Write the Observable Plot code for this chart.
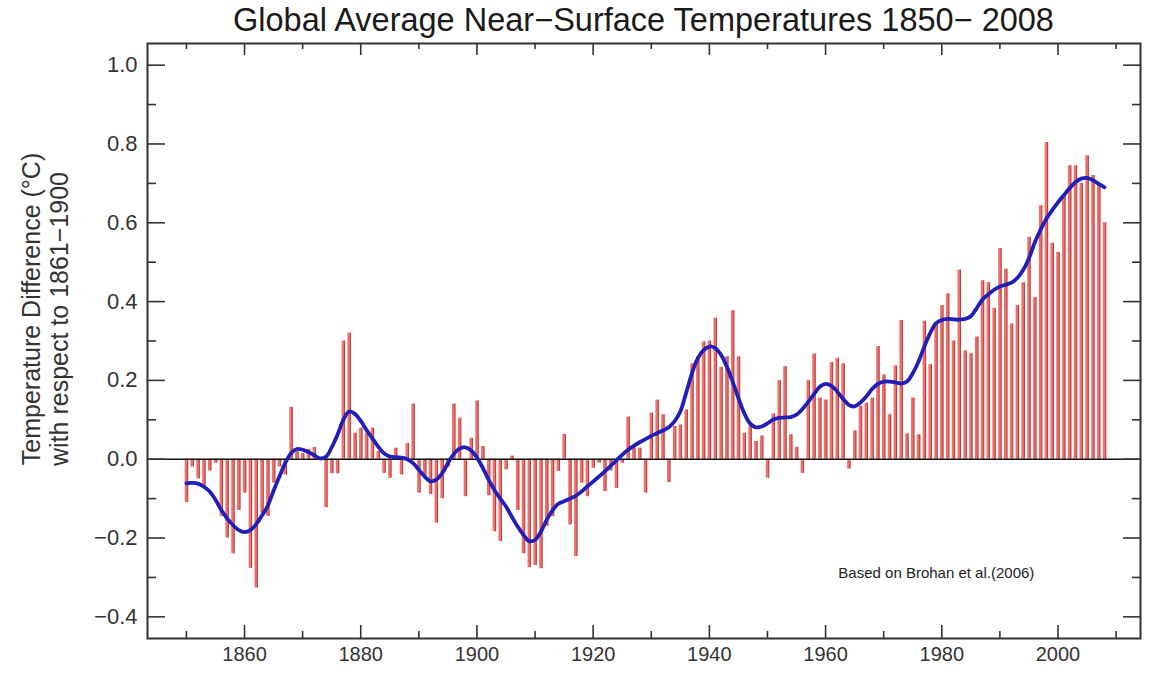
<!DOCTYPE html>
<html>
<head>
<meta charset="utf-8">
<script src="https://cdn.jsdelivr.net/npm/d3@7"></script>
<script src="https://cdn.jsdelivr.net/npm/@observablehq/plot@0.6"></script>
<style>
  html, body { margin: 0; padding: 0; background: #fff; }
  #title { width: 993px; margin-left: 147px; height: 34px; line-height: 40px; text-align: center; white-space: nowrap;
           font-family: "Liberation Sans", Arial, sans-serif; font-size: 32.5px; color: #1a1a1a; overflow: visible; }
  #chart svg { display: block; }
</style>
</head>
<body>
<div id="title">Global Average Near−Surface Temperatures 1850− 2008</div>
<div id="chart"></div>
<script>
// Annual anomalies (°C, relative to 1861–1900), 1850–2008
const firstYear = 1850;
const anomalies = [
  -0.11, -0.02, -0.05, -0.07, -0.03, -0.01, -0.145, -0.20, -0.24, -0.13,   // 1850s
  -0.086, -0.277, -0.327, -0.137, -0.145, -0.06, -0.02, -0.04, 0.132, 0.02, // 1860s
  0.015, 0.025, 0.03, 0.0, -0.123, -0.037, -0.037, 0.30, 0.32, 0.066,       // 1870s
  0.079, 0.066, 0.079, 0.02, -0.036, -0.048, 0.028, -0.04, 0.04, 0.14,      // 1880s
  -0.086, -0.044, -0.09, -0.162, -0.10, -0.02, 0.14, 0.104, -0.095, 0.053,  // 1890s
  0.148, 0.032, -0.093, -0.184, -0.209, -0.027, 0.008, -0.13, -0.24, -0.275, // 1900s
  -0.27, -0.278, -0.17, -0.146, -0.031, 0.063, -0.167, -0.247, -0.061, -0.095, // 1910s
  -0.023, -0.01, -0.082, -0.03, -0.074, -0.01, 0.107, 0.028, 0.028, -0.086, // 1920s
  0.117, 0.15, 0.113, -0.059, 0.083, 0.087, 0.125, 0.242, 0.26, 0.298,      // 1930s
  0.30, 0.358, 0.233, 0.26, 0.377, 0.26, 0.066, 0.087, 0.045, 0.059,        // 1940s
  -0.048, 0.115, 0.2, 0.235, 0.062, 0.03, -0.036, 0.2, 0.267, 0.155,        // 1950s
  0.15, 0.245, 0.256, 0.242, -0.025, 0.072, 0.134, 0.142, 0.155, 0.286,     // 1960s
  0.214, 0.113, 0.237, 0.352, 0.064, 0.155, 0.062, 0.35, 0.24, 0.345,       // 1970s
  0.39, 0.42, 0.30, 0.48, 0.275, 0.268, 0.31, 0.453, 0.448, 0.383,          // 1980s
  0.535, 0.482, 0.343, 0.39, 0.448, 0.563, 0.41, 0.643, 0.804, 0.548,       // 1990s
  0.525, 0.67, 0.745, 0.745, 0.70, 0.77, 0.72, 0.70, 0.60                   // 2000s
];
// Smoothed curve (blue line), read year by year
const smoothed = [
  -0.061, -0.06, -0.062, -0.07, -0.082, -0.103, -0.129, -0.15, -0.167, -0.18,
  -0.185, -0.18, -0.165, -0.143, -0.118, -0.08, -0.044, -0.01, 0.015, 0.026,
  0.024, 0.018, 0.01, 0.002, 0.006, 0.03, 0.062, 0.10, 0.121, 0.115,
  0.097, 0.074, 0.053, 0.032, 0.015, 0.007, 0.005, 0.004, 0.0, -0.01,
  -0.027, -0.044, -0.056, -0.052, -0.036, -0.01, 0.013, 0.027, 0.03, 0.022,
  0.004, -0.022, -0.052, -0.078, -0.10, -0.12, -0.146, -0.171, -0.192, -0.208,
  -0.205, -0.184, -0.154, -0.13, -0.113, -0.107, -0.10, -0.093, -0.082, -0.069,
  -0.057, -0.044, -0.031, -0.017, -0.003, 0.011, 0.024, 0.034, 0.043, 0.051,
  0.059, 0.066, 0.073, 0.081, 0.096, 0.121, 0.168, 0.218, 0.256, 0.277,
  0.286, 0.282, 0.265, 0.235, 0.197, 0.155, 0.117, 0.091, 0.081, 0.083,
  0.091, 0.101, 0.105, 0.106, 0.107, 0.113, 0.127, 0.145, 0.165, 0.184,
  0.191, 0.186, 0.172, 0.153, 0.138, 0.134, 0.144, 0.159, 0.178, 0.191,
  0.197, 0.197, 0.195, 0.192, 0.197, 0.218, 0.248, 0.286, 0.32, 0.345,
  0.353, 0.356, 0.355, 0.354, 0.356, 0.363, 0.383, 0.405, 0.418, 0.43,
  0.438, 0.443, 0.448, 0.46, 0.48, 0.51, 0.55, 0.582, 0.61, 0.632,
  0.652, 0.67, 0.688, 0.703, 0.712, 0.714, 0.708, 0.699, 0.69
];
const xMajorTicks = [1860, 1880, 1900, 1920, 1940, 1960, 1980, 2000];
const xMinorTicks = [1850, 1870, 1890, 1910, 1930, 1950, 1970, 1990, 2010];
const yMajorTicks = [-0.4, -0.2, 0.0, 0.2, 0.4, 0.6, 0.8, 1.0];
const yMinorTicks = [-0.3, -0.1, 0.1, 0.3, 0.5, 0.7, 0.9];
const yLabelLines = ["Temperature Difference (°C)", "with respect to 1861−1900"];
const sourceNote = "Based on Brohan et al.(2006)";

const bars = anomalies.map((v, i) => ({year: firstYear + i, value: v}));
const smooth = smoothed.map((v, i) => ({year: firstYear + i, value: v}));

const W = 1154, H = 643;
const mL = 147, mR = 14, mT = 9, mB = 39;
const fw = W - mL - mR, fh = H - mT - mB;
const axisColor = "#333";
const fmtY = d => (d < 0 ? "−" : "") + Math.abs(d).toFixed(1);

const chart = Plot.plot({
  width: W, height: H,
  marginLeft: mL, marginRight: mR, marginTop: mT, marginBottom: mB,
  style: {fontFamily: "'Liberation Sans', Arial, sans-serif", background: "#fff", color: "#222"},
  x: {domain: [1843.3, 2014.2]},
  y: {domain: [-0.455, 1.055]},
  marks: [
    // bars
    Plot.ruleX(bars, {x: "year", y1: 0, y2: "value", stroke: "#ef706a", strokeWidth: 3.4}),
    Plot.ruleX(bars, {x: "year", y1: 0, y2: "value", stroke: "#9a2a2a", strokeWidth: 0.9, dx: 1.3, strokeOpacity: 0.8}),
    // zero line
    Plot.ruleY([0], {stroke: "#111", strokeWidth: 1.6}),
    // smoothed curve
    Plot.line(smooth, {x: "year", y: "value", stroke: "#2020b8", strokeWidth: 3.8, curve: "catmull-rom"}),
    // frame
    Plot.frame({stroke: axisColor, strokeWidth: 2}),
    // inward ticks: left / right
    Plot.tickY(yMajorTicks, {y: d => d, insetRight: fw - 18, stroke: axisColor, strokeWidth: 1.6}),
    Plot.tickY(yMinorTicks, {y: d => d, insetRight: fw - 9, stroke: axisColor, strokeWidth: 1.6}),
    Plot.tickY(yMajorTicks, {y: d => d, insetLeft: fw - 17, stroke: axisColor, strokeWidth: 1.6}),
    Plot.tickY(yMinorTicks, {y: d => d, insetLeft: fw - 8, stroke: axisColor, strokeWidth: 1.6}),
    // inward ticks: bottom / top
    Plot.tickX(xMajorTicks, {x: d => d, insetTop: fh - 13, stroke: axisColor, strokeWidth: 1.6}),
    Plot.tickX(xMinorTicks, {x: d => d, insetTop: fh - 7, stroke: axisColor, strokeWidth: 1.6}),
    Plot.tickX(xMajorTicks, {x: d => d, insetBottom: fh - 12, stroke: axisColor, strokeWidth: 1.6}),
    Plot.tickX(xMinorTicks, {x: d => d, insetBottom: fh - 6, stroke: axisColor, strokeWidth: 1.6}),
    // tick labels
    Plot.axisY({ticks: yMajorTicks, tickSize: 0, tickPadding: 10, tickFormat: fmtY, fontSize: 22, label: null, fill: "#333"}),
    Plot.axisX({ticks: xMajorTicks, tickSize: 0, tickPadding: 8, tickFormat: d => String(d), fontSize: 20, label: null, fill: "#333"}),
    // y axis title
    Plot.text([yLabelLines[0]], {frameAnchor: "left", textAnchor: "middle", lineAnchor: "middle", rotate: -90, dx: -116, dy: -32, fontSize: 25, fill: "#333", text: d => d}),
    Plot.text([yLabelLines[1]], {frameAnchor: "left", textAnchor: "middle", lineAnchor: "middle", rotate: -90, dx: -88, dy: -22, fontSize: 25, fill: "#333", text: d => d}),
    // source note
    Plot.text([sourceNote], {x: 1962.2, y: -0.29, textAnchor: "start", fontSize: 15, fill: "#222", text: d => d})
  ]
});
document.getElementById("chart").appendChild(chart);
</script>
</body>
</html>
